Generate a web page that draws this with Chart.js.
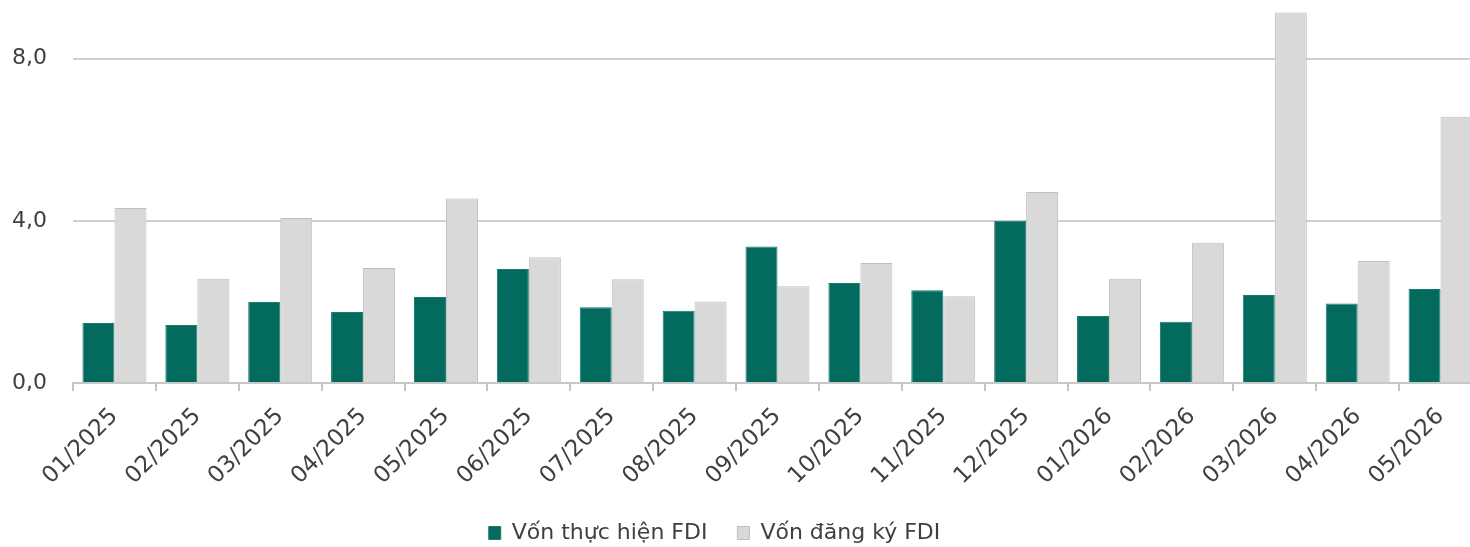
<!DOCTYPE html>
<html>
<head>
<meta charset="utf-8">
<script src="https://cdn.jsdelivr.net/npm/chart.js@4"></script>
<style>
  html, body { margin: 0; padding: 0; background: #fff; overflow: hidden; }
  #wrap { width: 1485px; height: 547px; }
</style>
</head>
<body>
<div id="wrap"><canvas id="fdi"></canvas></div>
<script>
const months = ["01/2025", "02/2025", "03/2025", "04/2025", "05/2025", "06/2025", "07/2025", "08/2025", "09/2025",
  "10/2025", "11/2025", "12/2025", "01/2026", "02/2026", "03/2026", "04/2026", "05/2026"];
const vonThucHien = [1.48, 1.43, 2.00, 1.75, 2.12, 2.81, 1.87, 1.78, 3.37, 2.47, 2.29, 4.00, 1.65, 1.51, 2.17, 1.96, 2.32];
const vonDangKy = [4.32, 2.57, 4.07, 2.84, 4.55, 3.10, 2.56, 2.01, 2.39, 2.96, 2.14, 4.71, 2.57, 3.46, 9.14, 3.01, 6.57];
const yTicks = [0, 4, 8];

const textColor = "#404040";
const font = "'DejaVu Sans', sans-serif";

// nudge the legend to where the original one sits
const legendShift = {
  id: "legendShift",
  afterLayout(chart) {
    const lg = chart.legend;
    lg.left -= 32;
    lg.right -= 32;
    const h = lg.bottom - lg.top;
    lg.top = 492;
    lg.bottom = lg.top + h;
  }
};

new Chart(document.getElementById("fdi").getContext("2d"), {
  type: "bar",
  data: {
    labels: months,
    datasets: [
      {
        label: "Vốn thực hiện FDI",
        data: vonThucHien,
        backgroundColor: "#036b5e",
        borderColor: "#1d7a6e",
        borderWidth: 1,
        categoryPercentage: 0.772,
        barPercentage: 1.0,
      },
      {
        label: "Vốn đăng ký FDI",
        data: vonDangKy,
        backgroundColor: "#d9d9d9",
        borderColor: "#bfbfbf",
        borderWidth: 1,
        categoryPercentage: 0.772,
        barPercentage: 1.0,
      },
    ],
  },
  options: {
    responsive: true,
    maintainAspectRatio: false,
    animation: false,
    devicePixelRatio: 1,
    layout: { padding: { left: 11, right: 3, top: 2, bottom: 0 } },
    plugins: {
      legend: {
        display: true,
        position: "bottom",
        labels: {
          boxWidth: 12,
          boxHeight: 13,
          padding: 30,
          color: textColor,
          font: { family: font, size: 22 },
        },
      },
      tooltip: { enabled: false },
    },
    scales: {
      x: {
        grid: {
          display: true,
          offset: true,
          drawOnChartArea: false,
          drawTicks: true,
          tickLength: 8,
          color: "#c4c4c4",
          lineWidth: 2,
        },
        border: { display: true, color: "#c8c8c8", width: 2 },
        ticks: {
          color: textColor,
          font: { family: font, size: 23 },
          minRotation: 45,
          maxRotation: 45,
          padding: 12,
          autoSkip: false,
        },
        afterFit: (scale) => {
          scale.height = 102;
          scale.paddingLeft = 0;
          scale.paddingRight = 0;
        },
      },
      y: {
        min: 0,
        max: 9.4,
        afterBuildTicks: (axis) => {
          axis.ticks = yTicks.map((v) => ({ value: v }));
        },
        grid: {
          color: "#d0d0d0",
          lineWidth: 2,
          drawTicks: false,
        },
        border: { display: false },
        ticks: {
          color: textColor,
          font: { family: font, size: 22 },
          padding: 26,
          callback: (v) => v.toFixed(1).replace(".", ","),
        },
        afterFit: (scale) => {
          scale.width = 62;
          scale.paddingTop = 0;
          scale.paddingBottom = 0;
        },
      },
    },
  },
  plugins: [legendShift],
});
</script>
</body>
</html>
